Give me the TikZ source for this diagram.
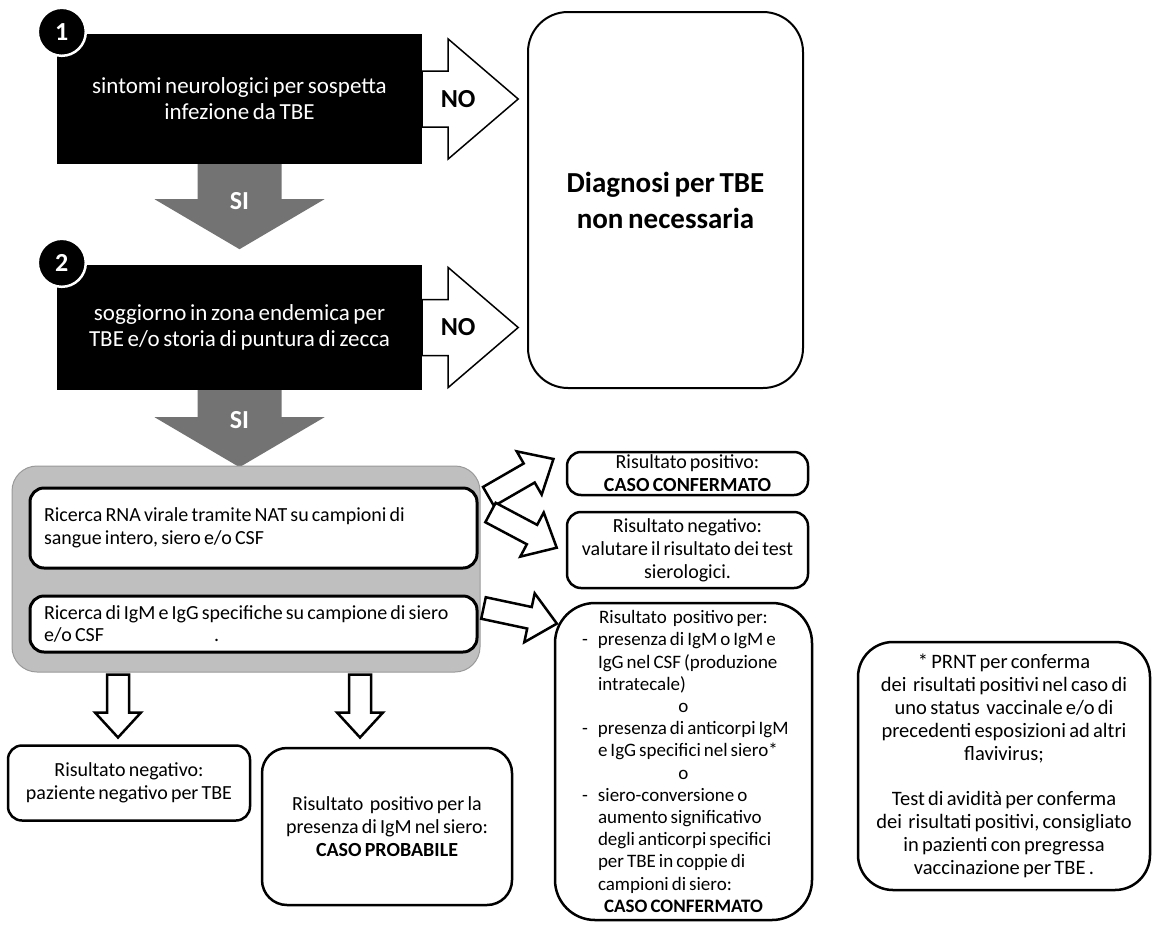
\documentclass[tikz,border=0pt]{standalone}
\usepackage{fontspec}
\setmainfont{Carlito}[WordSpace=0.7]
\usetikzlibrary{positioning,calc}

\newcommand{\stepfont}{\fontsize{23}{26}\selectfont}
\newcommand{\notefont}{\fontsize{20}{22.8}\selectfont}
\newcommand{\listfont}{\fontsize{19}{22.2}\selectfont}
\newcommand{\headfont}{\fontsize{29}{36}\selectfont\bfseries}
\newcommand{\tagfont}{\fontsize{26}{30}\selectfont\bfseries}
\newcommand{\itemdash}{\hspace*{12pt}\makebox[16pt][l]{-}}
\newcommand{\itemgap}{\hspace*{28pt}}
\newcommand{\midline}[1]{\makebox[227pt]{#1}}

% block arrow: #1 length, #2 half shaft, #3 half head, #4 head length
\tikzset{
  pics/fatarrow/.style n args={4}{code={
    \path[pic actions] (0,-#2) -- (#1-#4,-#2) -- (#1-#4,-#3) -- (#1,0)
      -- (#1-#4,#3) -- (#1-#4,#2) -- (0,#2) -- cycle;
  }}
}

\begin{document}
\begin{tikzpicture}[x=1pt, y=-1pt,
  stepbox/.style={fill=black, text=white, font=\stepfont, align=center,
    minimum width=365, minimum height=130, inner sep=0},
  numdot/.style={circle, fill=black, draw=white, line width=2.5, text=white,
    font=\tagfont, minimum size=48, inner sep=0},
  endbox/.style={draw, line width=2, rounded corners=40, align=center, inner sep=0},
  testbox/.style={draw, fill=white, line width=3, rounded corners=14,
    font=\notefont, align=flush left, text width=419, inner xsep=14, inner ysep=0},
  resbox/.style={draw, line width=2.5, rounded corners=14, font=\notefont,
    align=center, inner sep=0},
  siarrow/.style={fill=black!55},
  noarrow/.style={draw, fill=white, line width=1.5},
  outarrow/.style={draw, fill=white, line width=2.5},
  tag/.style={font=\tagfont}
]
\useasboundingbox (0,0) rectangle (1156,926);

% ── STEP 1 / STEP 2 ─────────────────────────────────────────────────────
\node[stepbox] (step1) at (239.5,99) {sintomi neurologici per sospetta\\infezione da TBE};
\node[stepbox, minimum height=125] (step2) at (239.5,327.5) {soggiorno in zona endemica per\\TBE e/o storia di puntura di zecca};
\node[numdot] (num1) at ($(step1.north west)+(5,-2)$) {1};
\node[numdot] (num2) at ($(step2.north west)+(5,-2)$) {2};

% ── NO BRANCH ──────────────────────────────────────────────────────────
\node[endbox, font=\headfont, minimum width=275, minimum height=376] (skip)
  at (665.5,200) {Diagnosi per TBE\\non necessaria};
\pic[noarrow] at (step1.east) {fatarrow={96}{28}{60}{70}};
\pic[noarrow] at (step2.east) {fatarrow={96}{28}{60}{70}};
\node[tag] (no1) at ($(step1.east)+(36,0)$) {NO};
\node[tag] (no2) at ($(step2.east)+(36,0)$) {NO};

% ── SI BRANCH ──────────────────────────────────────────────────────────
\pic[siarrow, rotate=-90] at (step1.south) {fatarrow={85}{42}{85}{50}};
\pic[siarrow, rotate=-90] at (step2.south) {fatarrow={77}{42}{85}{50}};
\node[tag, text=white] (si1) at ($(step1.south)+(0,37)$) {SI};
\node[tag, text=white] (si2) at ($(step2.south)+(0,30)$) {SI};

% ── LAB TESTS ──────────────────────────────────────────────────────────
\node[fill=black!25, draw=black!40, line width=1, rounded corners=25,
  minimum width=468, minimum height=206] (tests) at (246,569) {};
\node[testbox, minimum height=80] (rna) at (253.5,528)
  {Ricerca RNA virale tramite NAT su campioni di\\sangue intero, siero e/o CSF};
\node[testbox, minimum height=56] (serum) at (253.5,624)
  {Ricerca di IgM e IgG specifiche su campione di siero\\e/o CSF\hspace{110pt}.};

% ── NAT RESULTS ────────────────────────────────────────────────────────
\pic[outarrow, rotate=30]  at ($(rna.north east)+(10,10)$) {fatarrow={75}{11}{25}{28}};
\pic[outarrow, rotate=-28] at ($(rna.north east)+(12,26)$) {fatarrow={75}{11}{25}{28}};
\node[resbox, minimum width=241, minimum height=43] (natpos) at (687.5,473.5)
  {Risultato positivo:\\\textbf{CASO CONFERMATO}};
\node[resbox, minimum width=241, minimum height=76] (natneg) at (687.5,550)
  {Risultato negativo:\\valutare il risultato dei test\\sierologici.};

% ── SEROLOGY RESULTS ───────────────────────────────────────────────────
\pic[outarrow, rotate=-12] at ($(serum.east)+(5,-16)$) {fatarrow={75}{11}{25}{28}};
\pic[outarrow, rotate=-90] at ($(tests.south)+(-128,2)$) {fatarrow={63}{11}{23}{25}};
\pic[outarrow, rotate=-90] at ($(tests.south)+(114,2)$) {fatarrow={63}{11}{23}{25}};

\node[resbox, font=\listfont, align=flush left, text width=227, inner xsep=15,
  rounded corners=40, minimum height=317] (serpos) at (683.5,761.5) {%
  \midline{Risultato\ \ positivo per:}\\
  \itemdash presenza di IgM o IgM e\\
  \itemgap IgG nel CSF (produzione\\
  \itemgap intratecale)\\
  \midline{o}\\
  \itemdash presenza di anticorpi IgM\\
  \itemgap e IgG specifici nel siero*\\
  \midline{o}\\
  \itemdash siero-conversione o\\
  \itemgap aumento significativo\\
  \itemgap degli anticorpi specifici\\
  \itemgap per TBE in coppie di\\
  \itemgap campioni di siero:\\
  \midline{\textbf{CASO CONFERMATO}}};
\node[resbox, minimum width=242, minimum height=75] (serneg) at (129,783)
  {Risultato negativo:\\paziente negativo per TBE};
\node[resbox, rounded corners=25, minimum width=250, minimum height=157] (serprob)
  at (387,826.5) {Risultato\ \ positivo per la\\presenza di IgM nel siero:\\\textbf{CASO PROBABILE}};

% ── NOTE ───────────────────────────────────────────────────────────────
\node[resbox, font=\fontsize{20.5}{22.9}\selectfont, rounded corners=35,
  minimum width=292, minimum height=248] (prnt) at (1004,766) {%
  * PRNT per conferma\\dei\ \ risultati positivi nel caso di\\
  uno status\ \ vaccinale e/o di\\precedenti esposizioni ad altri\\
  flavivirus;\\[22.9pt]
  Test di avidità per conferma\\dei\ \ risultati positivi, consigliato\\
  in pazienti con pregressa\\vaccinazione per TBE .};

\end{tikzpicture}
\end{document}
